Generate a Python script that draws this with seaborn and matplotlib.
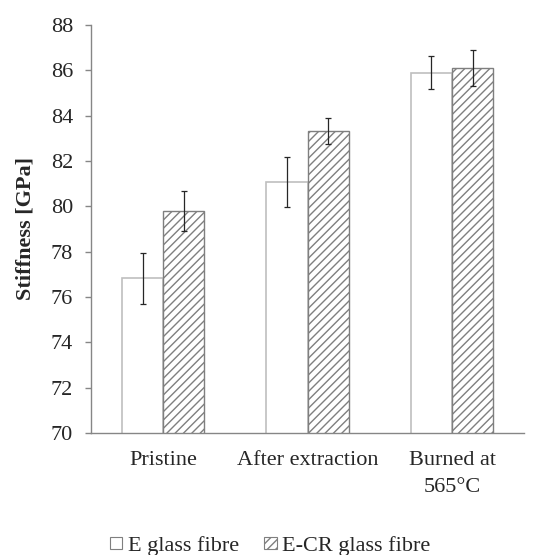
import pandas as pd
import seaborn as sns
import matplotlib.pyplot as plt
from matplotlib.patches import Patch

# Data
conditions = ["Pristine", "After extraction", "Burned at\n565°C"]
fibres = ["E glass fibre", "E-CR glass fibre"]
e_glass = [76.82, 81.06, 85.89]
e_glass_err = [1.13, 1.10, 0.73]
ecr_glass = [79.79, 83.32, 86.10]
ecr_glass_err = [0.88, 0.57, 0.80]

df = pd.DataFrame({
    "Condition": conditions * 2,
    "Fibre": [fibres[0]] * 3 + [fibres[1]] * 3,
    "Stiffness": e_glass + ecr_glass,
})

sns.set_style("white")
plt.rcParams["font.family"] = ["Liberation Serif", "DejaVu Serif"]
plt.rcParams["hatch.linewidth"] = 1.0

fig = plt.figure(figsize=(5.35, 5.55), dpi=100)
ax = fig.add_axes([0.170, 0.220, 0.810, 0.735])

sns.barplot(
    data=df,
    x="Condition",
    y="Stiffness",
    hue="Fibre",
    order=conditions,
    hue_order=fibres,
    errorbar=None,
    width=0.57,
    gap=0,
    palette=["white", "white"],
    legend=False,
    ax=ax,
)

# style bars: plain for E glass, hatched for E-CR
bars = ax.patches
for i, bar in enumerate(bars):
    if i < 3:
        bar.set_edgecolor("#bfbfbf")
        bar.set_linewidth(1.2)
    else:
        bar.set_edgecolor("#7f7f7f")
        bar.set_hatch("////")
        bar.set_linewidth(1.0)

# error bars at the bar centres
errs = e_glass_err + ecr_glass_err
vals = e_glass + ecr_glass
for bar, v, e in zip(bars, vals, errs):
    xc = bar.get_x() + bar.get_width() / 2
    ax.errorbar(xc, v, yerr=e, fmt="none", ecolor="#262626",
                elinewidth=0.9, capsize=2.3, capthick=0.9)

ax.set_ylim(70, 88)
ax.set_xlim(-0.5, 2.5)
ax.set_yticks(range(70, 89, 2))
ax.set_xlabel("")
ax.set_ylabel("Stiffness [GPa]", fontsize=16, fontweight="bold", labelpad=11)

for side in ["top", "right"]:
    ax.spines[side].set_visible(False)
for side in ["left", "bottom"]:
    ax.spines[side].set_color("#868686")
    ax.spines[side].set_linewidth(1.0)

ax.tick_params(axis="y", direction="out", length=4.5, width=1.0,
               color="#868686", labelsize=16, labelcolor="#262626", pad=8.5,
               left=True)
ax.tick_params(axis="x", length=0, labelsize=16, labelcolor="#262626", pad=13)
for lbl in ax.get_xticklabels():
    lbl.set_linespacing(1.6)

handles = [
    Patch(facecolor="white", edgecolor="#7f7f7f", linewidth=0.8),
    Patch(facecolor="white", edgecolor="#7f7f7f", hatch="////", linewidth=0.8),
]
fig.legend(handles, fibres, loc="lower center", bbox_to_anchor=(0.505, -0.038),
           ncol=2, frameon=False, fontsize=16, handlelength=0.55,
           handleheight=0.45, handletextpad=0.25, columnspacing=1.15,
           labelcolor="#262626")

plt.savefig("out.png", dpi=100)
plt.close()
